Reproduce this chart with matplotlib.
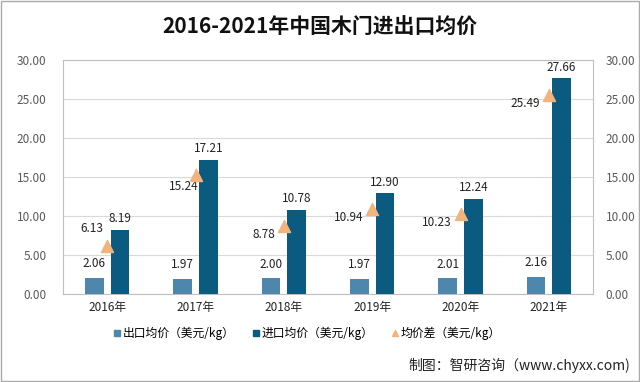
import matplotlib
matplotlib.use("Agg")
import matplotlib.pyplot as plt
import numpy as np
from matplotlib.patches import Rectangle
from matplotlib.lines import Line2D

plt.rcParams['font.family'] = ['Noto Sans CJK SC', 'DejaVu Sans']

years = ['2016年', '2017年', '2018年', '2019年', '2020年', '2021年']
export_price = [2.06, 1.97, 2.00, 1.97, 2.01, 2.16]
import_price = [8.19, 17.21, 10.78, 12.90, 12.24, 27.66]
price_diff = [6.13, 15.24, 8.78, 10.94, 10.23, 25.49]
yticks = [0, 5, 10, 15, 20, 25, 30]
legend_labels = ['出口均价（美元/kg）', '进口均价（美元/kg）', '均价差（美元/kg）']

c_exp = '#4E87AB'
c_imp = '#0B5A80'
c_tri = '#F2B47C'

fig = plt.figure(figsize=(6.4, 3.82), dpi=100)
fig.patch.set_facecolor('white')
fig.add_artist(Rectangle((0.002, 0.003), 0.996, 0.994, transform=fig.transFigure,
                         fill=False, edgecolor='#AAAAAA', lw=1.0))

ax = fig.add_axes([63/640, 1-294/382, (593-63)/640, (294-60)/382])
x = np.arange(len(years))
w = 0.21
off = 0.145
ax.bar(x - off, export_price, w, color=c_exp, zorder=3)
ax.bar(x + off, import_price, w, color=c_imp, zorder=3)
ax.scatter(x, price_diff, marker='^', s=75, color=c_tri, zorder=4)

for i in range(len(years)):
    ax.text(x[i] - off, export_price[i] + 1.0, f'{export_price[i]:.2f}', ha='center', va='bottom',
            fontsize=8.5, color='#222222')
    ax.text(x[i] + off, import_price[i] + 0.6, f'{import_price[i]:.2f}', ha='center', va='bottom',
            fontsize=8.5, color='#222222')
    if i == 0:
        ax.text(x[i] - 0.04, price_diff[i] + 2.3, f'{price_diff[i]:.2f}', ha='right', va='center',
                fontsize=8.5, color='#222222')
    elif i == 1:
        ax.text(x[i] + 0.03, price_diff[i] - 1.4, f'{price_diff[i]:.2f}', ha='right', va='center',
                fontsize=8.5, color='#222222')
    else:
        ax.text(x[i] - 0.1, price_diff[i] - 1.1, f'{price_diff[i]:.2f}', ha='right', va='center',
                fontsize=8.5, color='#222222')

ax.set_xlim(-0.5, len(years) - 0.5)
ax.set_ylim(0, 30)
ax.set_yticks(yticks)
ax.set_yticklabels([f'{v:.2f}' for v in yticks])
ax.set_xticks(x)
ax.set_xticklabels(years)
ax.tick_params(axis='y', length=0, labelsize=8.5, labelcolor='#595959', pad=12)
ax.tick_params(axis='x', length=0, labelsize=8.5, labelcolor='#222222', pad=5)
ax.grid(axis='y', color='#D9D9D9', lw=0.8, zorder=0)
for s in ax.spines.values():
    s.set_color('#BFBFBF')
    s.set_linewidth(0.8)

ax2 = ax.twinx()
ax2.set_ylim(0, 30)
ax2.set_yticks(yticks)
ax2.set_yticklabels([f'{v:.2f}' for v in yticks])
ax2.tick_params(axis='y', length=0, labelsize=8.5, labelcolor='#595959', pad=9)
for s in ax2.spines.values():
    s.set_visible(False)

fig.text(0.5, 1 - 27/382, '2016-2021年中国木门进出口均价', ha='center', va='center',
         fontsize=15, fontweight='bold', color='#111111')

handles = [
    Line2D([], [], ls='none', marker='s', markersize=5, color=c_exp),
    Line2D([], [], ls='none', marker='s', markersize=5, color=c_imp),
    Line2D([], [], ls='none', marker='^', markersize=5, color=c_tri),
]
fig.legend(handles, legend_labels, loc='center', bbox_to_anchor=(0.48, 1 - 333/382), ncol=3,
           frameon=False, fontsize=8.5, handlelength=0.6, columnspacing=1.5, handletextpad=0.2)

fig.text(0.985, 1 - 365/382, '制图：智研咨询（www.chyxx.com)', ha='right', va='center',
         fontsize=10, color='#222222')

fig.savefig('out.png', dpi=100, facecolor='white')
